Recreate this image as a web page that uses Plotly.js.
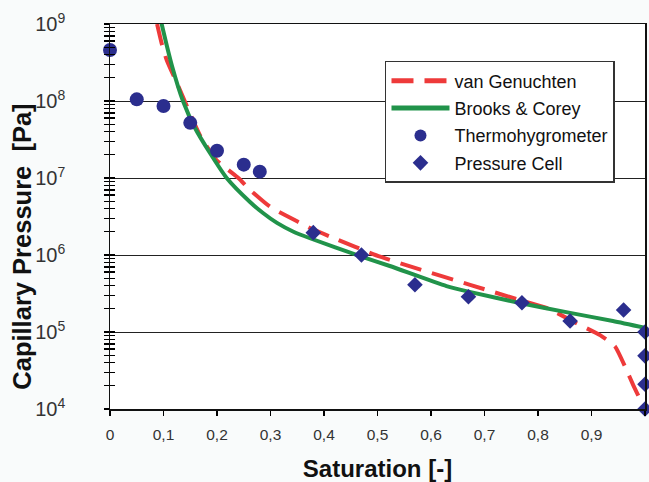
<!DOCTYPE html>
<html>
<head>
<meta charset="utf-8">
<script src="https://cdn.plot.ly/plotly-3.0.1.min.js"></script>
<style>html,body{margin:0;padding:0;background:#f9fbfb;}#chart{width:649px;height:482px;}</style>
</head>
<body>
<div id="chart"></div>
<script>
// van Genuchten fit
var vgX = [0.088, 0.0966, 0.106, 0.131, 0.168, 0.199, 0.24, 0.262, 0.299, 0.327, 0.374, 0.411, 0.505, 0.579, 0.673, 0.766, 0.82, 0.872, 0.916, 0.944, 0.966, 0.978, 0.991, 0.998];
var vgY = [1.0e9, 5.6e8, 3.4e8, 1.38e8, 3.6e7, 1.71e7, 1.0e7, 6.98e6, 4.24e6, 3.31e6, 2.24e6, 1.74e6, 9.5e5, 6.5e5, 4.1e5, 2.6e5, 2.0e5, 1.3e5, 9.1e4, 6.5e4, 3.16e4, 2.04e4, 1.32e4, 1.0e4];
// Brooks & Corey fit
var bcX = [0.093, 0.0966, 0.1159, 0.1364, 0.1589, 0.1869, 0.2181, 0.2617, 0.286, 0.3121, 0.342, 0.3738, 0.4673, 0.523, 0.629, 0.67, 0.766, 0.86, 0.94, 1.0];
var bcY = [1.3e9, 1.0e9, 2.85e8, 1.0e8, 4.46e7, 2.11e7, 1.0e7, 4.88e6, 3.51e6, 2.61e6, 2.02e6, 1.65e6, 9.7e5, 7.2e5, 3.95e5, 3.34e5, 2.38e5, 1.77e5, 1.39e5, 1.13e5];
// Thermohygrometer measurements
var thX = [0, 0.05, 0.1, 0.15, 0.2, 0.25, 0.28];
var thY = [4.6e8, 1.05e8, 8.6e7, 5.2e7, 2.26e7, 1.49e7, 1.21e7];
// Pressure cell measurements
var pcX = [0.38, 0.47, 0.57, 0.67, 0.77, 0.86, 0.96, 1, 1, 1, 1];
var pcY = [1.95e6, 1.0e6, 4.1e5, 2.87e5, 2.4e5, 1.39e5, 1.93e5, 1.0e5, 4.9e4, 2.1e4, 1.0e4];
// Axis tick labels
var xTickVals = [0, 0.1, 0.2, 0.3, 0.4, 0.5, 0.6, 0.7, 0.8, 0.9, 1];
var xTickText = ['0', '0,1', '0,2', '0,3', '0,4', '0,5', '0,6', '0,7', '0,8', '0,9', '1'];
var yDecades = [1e4, 1e5, 1e6, 1e7, 1e8, 1e9];
var yMinorMult = [1, 2, 3, 4, 5, 6, 7, 8, 9];

// tick positions for the crossing tick marks (major + minor)
var yTickMarks = [];
yDecades.forEach(function (d, i) {
  if (i === yDecades.length - 1) { yTickMarks.push(d); return; }
  yMinorMult.forEach(function (m) { yTickMarks.push(d * m); });
});

var FONT = 'Arial, "Liberation Sans", sans-serif';
var NAVY = '#2b2e8e';

var traces = [
  {x: vgX, y: vgY, name: 'van Genuchten', mode: 'lines', legendgroup: 'a',
   line: {color: '#ee3a3a', width: 4, dash: '22px,11px', shape: 'spline', smoothing: 0.5}},
  {x: bcX, y: bcY, name: 'Brooks & Corey', mode: 'lines', legendgroup: 'b',
   line: {color: '#21934a', width: 4, shape: 'spline', smoothing: 0.6}},
  {x: thX, y: thY, name: 'Thermohygrometer', mode: 'markers', legendgroup: 'c', cliponaxis: false,
   marker: {symbol: 'circle', size: 14, color: NAVY}},
  {x: pcX, y: pcY, name: 'Pressure Cell', mode: 'markers', legendgroup: 'd', cliponaxis: false,
   marker: {symbol: 'diamond', size: 12, color: NAVY}},
  // empty helper traces so the tick-mark axes are drawn
  {x: [null], y: [null], yaxis: 'y2', showlegend: false, hoverinfo: 'skip', mode: 'markers'},
  {x: [null], y: [null], yaxis: 'y3', showlegend: false, hoverinfo: 'skip', mode: 'markers'}
];

var tickAxis = function (dir) {
  return {
    type: 'log', range: [4, 9], overlaying: 'y', anchor: 'x', side: 'left',
    tickmode: 'array', tickvals: yTickMarks,
    ticks: dir, ticklen: 5, tickwidth: 1.2, tickcolor: '#000',
    showticklabels: false, showgrid: false, showline: false, zeroline: false
  };
};

var layout = {
  width: 649, height: 482,
  margin: {l: 110, r: 4, t: 24, b: 73},
  paper_bgcolor: '#f9fbfb',
  plot_bgcolor: '#ffffff',
  font: {family: FONT, color: '#222'},
  separators: ',.',
  xaxis: {
    range: [0, 1], tickmode: 'array', tickvals: xTickVals, ticktext: xTickText,
    ticks: 'outside', ticklen: 5, tickwidth: 1.5, tickcolor: '#000',
    showline: true, linecolor: '#111', linewidth: 1.5, mirror: true,
    showgrid: false, zeroline: false,
    tickfont: {size: 15.5, color: '#333', family: FONT},
    ticklabelstandoff: 6,
    title: {text: '<b>Saturation [-]</b>', font: {size: 24, color: '#111', family: FONT}, standoff: 18}
  },
  yaxis: {
    type: 'log', range: [4, 9], dtick: 1, exponentformat: 'power',
    ticks: '',
    showline: true, linecolor: '#111', linewidth: 1.5, mirror: true,
    showgrid: true, gridcolor: '#222', gridwidth: 1, zeroline: false,
    tickfont: {size: 16, color: '#333', family: FONT},
    ticklabelstandoff: 40
  },
  yaxis2: tickAxis('outside'),
  yaxis3: tickAxis('inside'),
  legend: {
    x: 0.514, y: 0.904, xanchor: 'left', yanchor: 'top',
    bgcolor: '#ffffff', bordercolor: '#333', borderwidth: 1.5,
    font: {size: 18, color: '#111', family: FONT},
    itemwidth: 58, itemsizing: 'constant',
    traceorder: 'grouped', tracegroupgap: 1
  },
  annotations: [{
    text: '<b>Capillary Pressure\u00a0\u00a0[Pa]</b>', textangle: -90,
    xref: 'paper', yref: 'paper', x: -0.166, y: 0.422, xanchor: 'center', yanchor: 'middle',
    showarrow: false, font: {size: 25.5, color: '#111', family: FONT}
  }],
  showlegend: true
};

Plotly.newPlot('chart', traces, layout, {displayModeBar: false, staticPlot: true});
</script>
</body>
</html>
